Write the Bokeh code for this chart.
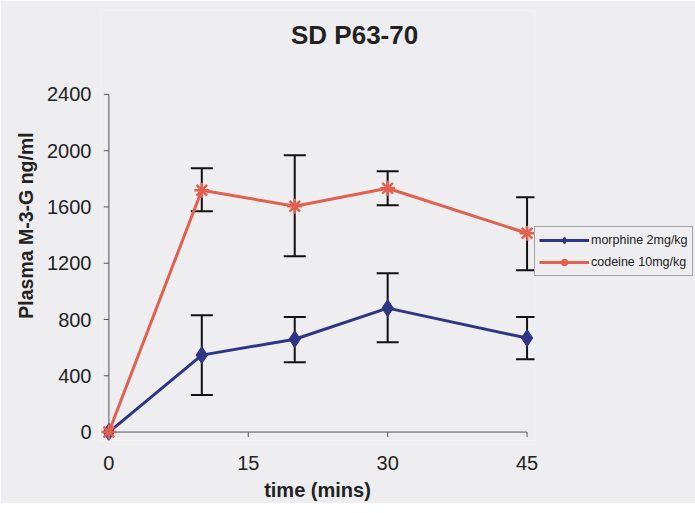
from bokeh.plotting import figure
from bokeh.models import (ColumnDataSource, Whisker, TeeHead, Legend, LegendItem,
                          FixedTicker, Range1d, Label)
from bokeh.embed import file_html
from bokeh.resources import INLINE

# ---- data ----
time = [0, 10, 20, 30, 45]
morphine = [0, 547, 660, 881, 668]
morphine_lo = [0, 263, 497, 639, 518]
morphine_hi = [0, 831, 817, 1129, 817]
codeine = [0, 1719, 1605, 1733, 1413]
codeine_lo = [0, 1570, 1250, 1612, 1150]
codeine_hi = [0, 1875, 1967, 1854, 1669]
x_ticks = [0, 15, 30, 45]
y_ticks = [0, 400, 800, 1200, 1600, 2000, 2400]
title_text = "SD P63-70"
series_names = ["morphine 2mg/kg", "codeine 10mg/kg"]

BG = "#eeeef0"
NAVY = "#2e3585"
RED = "#e2604f"
AXIS = "#555555"
FONT = "Liberation Sans"

XMIN, XMAX = 0, 45
YMIN, YMAX = 0, 2400

# frame extends above the axis top so the title can sit inside it
p = figure(frame_width=434, frame_height=430, output_backend="svg",
           toolbar_location=None,
           x_range=Range1d(-0.9, 45.8), y_range=Range1d(-60, 2996.5),
           min_border_left=100, min_border_right=158, min_border_top=10,
           min_border_bottom=62)
p.background_fill_color = BG
p.border_fill_color = BG
p.outline_line_color = None
p.grid.visible = False

for ax in (p.xaxis[0], p.yaxis[0]):
    ax.axis_line_color = None
    ax.major_tick_line_color = None
    ax.minor_tick_line_color = None
    ax.major_tick_in = 0
    ax.major_tick_out = 0
    ax.major_label_text_font = FONT
    ax.major_label_text_font_size = "20px"
    ax.major_label_text_color = "#222222"
    ax.axis_label_text_font = FONT
    ax.axis_label_text_font_size = "20px"
    ax.axis_label_text_font_style = "bold"
    ax.axis_label_text_color = "#222222"

p.xaxis.ticker = FixedTicker(ticks=x_ticks)
p.yaxis.ticker = FixedTicker(ticks=y_ticks)
p.xaxis.axis_label = "time (mins)"
p.yaxis.axis_label = "Plasma M-3-G ng/ml"
p.yaxis.axis_label_text_font_size = "19.5px"
p.xaxis.major_label_standoff = 15
p.xaxis.axis_label_standoff = 6
p.yaxis.major_label_standoff = 9
p.yaxis.axis_label_standoff = 7

# axis lines and tick marks drawn at the data origin (5 px outward ticks)
tick_dx = 5 / 9.289
tick_dy = 5 / 0.14083
p.segment(x0=[XMIN, XMIN], y0=[YMIN, YMIN], x1=[XMAX, XMIN], y1=[YMIN, YMAX],
          line_color=AXIS, line_width=1)
p.segment(x0=[XMIN - tick_dx] * len(y_ticks), y0=y_ticks,
          x1=[XMIN] * len(y_ticks), y1=y_ticks, line_color=AXIS, line_width=1)
p.segment(x0=x_ticks, y0=[YMIN] * len(x_ticks), x1=x_ticks,
          y1=[YMIN - tick_dy] * len(x_ticks), line_color=AXIS, line_width=1)

src_m = ColumnDataSource(dict(x=time, y=morphine))
src_c = ColumnDataSource(dict(x=time, y=codeine))

lm = p.line("x", "y", source=src_m, line_color=NAVY, line_width=3)
sm = p.scatter("x", "y", source=src_m, marker="diamond", size=17,
               fill_color=NAVY, line_color=NAVY)
lc = p.line("x", "y", source=src_c, line_color=RED, line_width=3)
sc = p.scatter("x", "y", source=src_c, marker="asterisk", size=15,
               line_color=RED, line_width=2.5)

for lo, hi in ((morphine_lo, morphine_hi), (codeine_lo, codeine_hi)):
    es = ColumnDataSource(dict(base=time[1:], lower=lo[1:], upper=hi[1:]))
    w = Whisker(source=es, base="base", lower="lower", upper="upper",
                line_color="#111111", line_width=2,
                upper_head=TeeHead(size=22, line_color="#111111", line_width=2),
                lower_head=TeeHead(size=22, line_color="#111111", line_width=2))
    p.add_layout(w)

legend = Legend(items=[LegendItem(label=series_names[0], renderers=[lm, sm]),
                       LegendItem(label=series_names[1], renderers=[lc, sc])],
                location=(0, 164), orientation="vertical")
legend.label_text_font = FONT
legend.label_text_font_size = "12.5px"
legend.label_text_color = "#222222"
legend.glyph_width = 50
legend.glyph_height = 18
legend.label_standoff = 2
legend.label_height = 18
legend.spacing = 4
legend.padding = 4
legend.margin = 0
legend.border_line_color = AXIS
legend.border_line_width = 1
legend.background_fill_color = BG
legend.background_fill_alpha = 1
p.add_layout(legend, "right")

p.add_layout(Label(x=26.44, y=2819, text=title_text, text_font=FONT,
                   text_font_size="26px", text_font_style="bold",
                   text_color="#222222", text_align="center",
                   text_baseline="middle"))

open("out.html", "w").write(file_html(p, INLINE))
